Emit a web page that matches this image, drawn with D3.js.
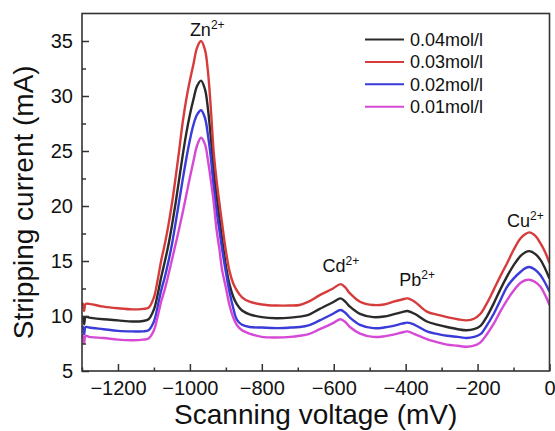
<!DOCTYPE html>
<html>
<head>
<meta charset="utf-8">
<script src="https://cdn.jsdelivr.net/npm/d3@7"></script>
<style>
  body { margin: 0; background: #fff; }
  text { font-family: "Liberation Sans", Arial, sans-serif; fill: #111; }
</style>
</head>
<body>
<svg id="chart" width="555" height="431"></svg>
<script>
// Scanning voltage (mV) shared by all four stripping curves
const voltage = [
  -1300, -1297, -1294, -1290, -1280, -1240, -1200, -1160, -1130, -1115,
  -1100, -1090, -1080, -1070, -1060, -1050, -1040, -1030, -1020, -1010,
  -1000, -990, -980, -969, -958, -950, -942, -934, -926, -918,
  -910, -900, -890, -880, -870, -855, -834,
  -800, -760, -720, -695, -670, -639, -602, -581, -568, -555,
  -527, -490, -460, -434, -410, -395, -375,
  -341, -310, -285, -255, -230, -210, -192, -175, -155, -137,
  -118, -100, -81, -67, -56, -40, -25, -12, 0
];

// Stripping current (mA) for each concentration
const current004 = [
  10.0, 9.85, 9.25, 9.9, 9.85, 9.7, 9.6, 9.5, 9.55, 9.7,
  10.6, 11.9, 13.5, 14.9, 16.4, 18.2, 20.2, 22.4, 24.6, 26.6,
  28.3, 29.7, 30.9, 31.4, 30.6, 28.9, 26.3, 23.3, 21.0, 18.9,
  16.9, 14.6, 12.9, 11.8, 11.1, 10.5, 10.15,
  9.9, 9.8, 9.85, 9.94, 10.1, 10.65, 11.25, 11.6, 11.3, 10.85,
  10.2, 9.9, 9.95, 10.15, 10.35, 10.45, 10.2,
  9.5, 9.2, 9.0, 8.8, 8.7, 8.8, 9.1, 9.9, 11.15, 12.4,
  13.6, 14.6, 15.45, 15.8, 15.9, 15.65, 15.1, 14.3, 13.4
];
const current003 = [
  11.2, 11.05, 10.45, 11.1, 11.1, 10.85, 10.7, 10.6, 10.65, 10.75,
  11.7, 13.2, 15.0, 16.5, 18.2, 20.2, 22.5, 25.0, 27.6, 29.7,
  31.4, 32.9, 34.4, 35.0, 34.2, 32.3, 29.0, 25.0, 22.4, 20.3,
  18.3, 15.95, 14.1, 13.0, 12.35, 11.7, 11.3,
  11.05, 10.95, 10.95, 11.0, 11.3, 11.9, 12.5, 12.9, 12.6, 12.06,
  11.3, 11.0, 11.05, 11.3, 11.5, 11.6, 11.3,
  10.4, 10.1, 9.9, 9.7, 9.6, 9.75, 10.2, 11.1, 12.4, 13.6,
  14.8, 16.0, 17.05, 17.45, 17.6, 17.3, 16.6, 15.8, 14.8
];
const current002 = [
  9.1, 8.95, 8.35, 9.0, 8.95, 8.8, 8.65, 8.6, 8.6, 8.7,
  9.5, 10.8, 12.3, 13.5, 14.9, 16.5, 18.4, 20.4, 22.4, 24.3,
  26.0, 27.4, 28.3, 28.7, 28.0, 26.5, 24.5, 21.8, 19.6, 17.8,
  16.0, 14.0, 12.2, 10.8, 9.7, 9.2, 9.0,
  8.95, 8.9, 8.95, 9.0, 9.15, 9.6, 10.2, 10.55, 10.3, 9.85,
  9.2, 8.9, 8.95, 9.1, 9.3, 9.4, 9.2,
  8.6, 8.35, 8.2, 8.1, 8.0, 8.1, 8.35, 9.1, 10.2, 11.4,
  12.65, 13.4, 14.0, 14.35, 14.45, 14.2, 13.7, 13.0, 12.2
];
const current001 = [
  8.3, 8.15, 7.55, 8.2, 8.1, 8.0, 7.85, 7.8, 7.85, 7.95,
  8.7, 9.9, 11.3, 12.4, 13.7, 15.1, 16.5, 17.9, 19.4, 21.0,
  22.6, 24.1, 25.5, 26.2, 25.6, 24.2, 22.4, 20.4, 17.9, 16.1,
  14.1, 12.6, 11.0, 9.9, 9.2, 8.7, 8.4,
  8.1, 8.05, 8.1, 8.2, 8.35, 8.8, 9.35, 9.7, 9.45, 9.0,
  8.4, 8.1, 8.15, 8.3, 8.5, 8.6, 8.35,
  7.9, 7.6, 7.4, 7.3, 7.2, 7.3, 7.6, 8.3, 9.3, 10.4,
  11.45, 12.3, 13.0, 13.25, 13.3, 13.1, 12.65, 11.9, 11.0
];

const seriesNames = ["0.04mol/l", "0.03mol/l", "0.02mol/l", "0.01mol/l"];
const seriesValues = [current004, current003, current002, current001];
const seriesColors = ["#2a2a2a", "#d63c3c", "#3b3bd9", "#d648d6"];

const xTicks = [-1200, -1000, -800, -600, -400, -200, 0];
const xMinorTicks = [-1300, -1100, -900, -700, -500, -300, -100];
const yTicks = [5, 10, 15, 20, 25, 30, 35];
const yMinorTicks = [7.5, 12.5, 17.5, 22.5, 27.5, 32.5];

// Ion peak annotations: ion, charge, label anchor (voltage, current)
const peakIons = ["Zn", "Cd", "Pb", "Cu"];
const peakCharges = ["2+", "2+", "2+", "2+"];
const peakLabelVoltage = [-1000, -631, -418, -118];
const peakLabelCurrent = [35.5, 14.0, 12.7, 18.1];

const svg = d3.select("#chart");
const plotLeft = 82, plotRight = 549.5, plotTop = 13.5, plotBottom = 371;

const x = d3.scaleLinear().domain([-1300, 0]).range([plotLeft, plotRight]);
const y = d3.scaleLinear().domain([5, 37.5]).range([plotBottom, plotTop]);

// curves
const line = d3.line()
  .x(d => x(d[0]))
  .y(d => y(d[1]))
  .curve(d3.curveCatmullRom.alpha(0.5));

const defs = svg.append("defs");
defs.append("clipPath").attr("id", "plotClip")
  .append("rect").attr("x", plotLeft).attr("y", plotTop)
  .attr("width", plotRight - plotLeft).attr("height", plotBottom - plotTop);

const curves = svg.append("g").attr("clip-path", "url(#plotClip)");
seriesValues.forEach((vals, i) => {
  curves.append("path")
    .datum(voltage.map((v, k) => [v, vals[k]]))
    .attr("fill", "none")
    .attr("stroke", seriesColors[i])
    .attr("stroke-width", 2.4)
    .attr("stroke-linejoin", "round")
    .attr("d", line);
});

// axes with inward ticks
const axisColor = "#333";
svg.append("g").attr("transform", `translate(0,${plotBottom})`)
  .call(d3.axisBottom(x).tickValues(xTicks).tickFormat(d3.format("d"))
    .tickSizeInner(-7).tickSizeOuter(0).tickPadding(10));
svg.append("g").attr("transform", `translate(0,${plotBottom})`)
  .call(d3.axisBottom(x).tickValues(xMinorTicks).tickFormat("")
    .tickSizeInner(-3.5).tickSizeOuter(0));

svg.append("g").attr("transform", `translate(${plotLeft},0)`)
  .call(d3.axisLeft(y).tickValues(yTicks)
    .tickSizeInner(-7).tickSizeOuter(0).tickPadding(9));
svg.append("g").attr("transform", `translate(${plotLeft},0)`)
  .call(d3.axisLeft(y).tickValues(yMinorTicks).tickFormat("")
    .tickSizeInner(-4).tickSizeOuter(0));

svg.selectAll(".domain").remove();
svg.selectAll(".tick line").attr("stroke", axisColor).attr("stroke-width", 1.5);
svg.selectAll(".tick text")
  .attr("font-size", 20)
  .attr("font-family", "'Liberation Sans', Arial, sans-serif")
  .attr("fill", "#111");

// frame
svg.append("rect")
  .attr("x", plotLeft).attr("y", plotTop)
  .attr("width", plotRight - plotLeft).attr("height", plotBottom - plotTop)
  .attr("fill", "none").attr("stroke", axisColor).attr("stroke-width", 1.6);

// axis titles
svg.append("text")
  .attr("x", (plotLeft + plotRight) / 2).attr("y", 424)
  .attr("text-anchor", "middle").attr("font-size", 28)
  .text("Scanning voltage (mV)");
svg.append("text")
  .attr("transform", `translate(33,${(plotTop + plotBottom) / 2 + 10}) rotate(-90)`)
  .attr("text-anchor", "middle").attr("font-size", 28)
  .text("Stripping current (mA)");

// ion labels with superscript charge
peakIons.forEach((ion, i) => {
  const t = svg.append("text")
    .attr("x", x(peakLabelVoltage[i]))
    .attr("y", y(peakLabelCurrent[i]))
    .attr("font-size", 18);
  t.append("tspan").text(ion);
  t.append("tspan").attr("font-size", 12).attr("dy", -7).text(peakCharges[i]);
});

// legend
const legend = svg.append("g").attr("transform", "translate(365,39.5)");
seriesNames.forEach((name, i) => {
  const g = legend.append("g").attr("transform", `translate(0,${i * 22.4})`);
  g.append("line").attr("x1", 0).attr("x2", 39)
    .attr("stroke", seriesColors[i]).attr("stroke-width", 2);
  g.append("text").attr("x", 45).attr("y", 6.5)
    .attr("font-size", 18).text(name);
});
</script>
</body>
</html>
